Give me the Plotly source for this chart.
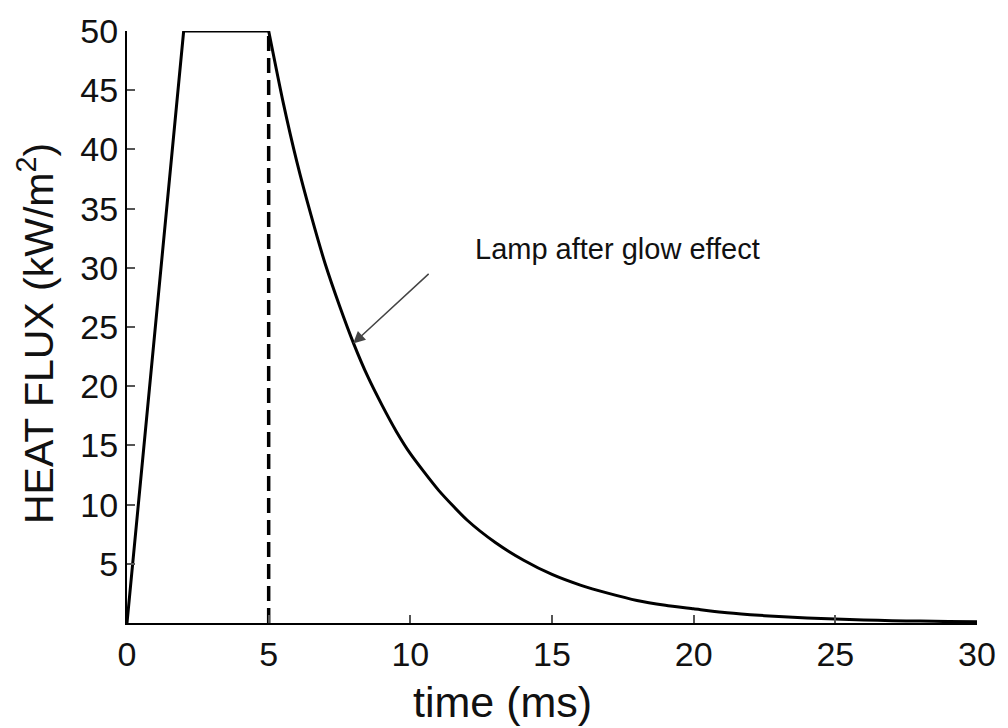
import plotly.graph_objects as go

# ---- data ----
ramp_t = [0, 2, 5]
ramp_q = [0, 50, 50]

decay_t = [5, 5.5, 6, 6.5, 7, 7.5, 8, 8.5, 9, 9.5, 10, 11, 12, 13, 14, 15,
           16, 17, 18, 19, 20, 21, 22, 23, 24, 25, 26, 27, 28, 29, 30]
decay_q = [50, 44.1, 38.9, 34.4, 30.3, 26.8, 23.6, 20.8, 18.4, 16.2, 14.3,
           11.2, 8.7, 6.8, 5.3, 4.1, 3.2, 2.5, 1.9, 1.5, 1.2, 0.9, 0.7,
           0.55, 0.43, 0.33, 0.26, 0.2, 0.16, 0.12, 0.1]

marker_t = [5, 5]
marker_q = [0, 49.6]

x_ticks = [0, 5, 10, 15, 20, 25, 30]
y_ticks = [5, 10, 15, 20, 25, 30, 35, 40, 45, 50]

arrow_head = (7.98, 23.6)
arrow_tail = (10.7, 29.6)
note_pos = (12.2, 31.6)
note_text = "Lamp after glow effect"
x_title = "time (ms)"
y_title = "HEAT FLUX (kW/m<sup>2</sup>)"

FONT = "Liberation Sans, Arial, sans-serif"

# plot area in pixels
L, R, T, B = 127, 983, 24, 623


def px_to_paper(px, py):
    return (px - L) / (R - L), (B - py) / (B - T)


fig = go.Figure()
fig.add_trace(go.Scatter(x=marker_t, y=marker_q, mode="lines",
                         line=dict(color="black", width=3.5, dash="15px,7px"),
                         hoverinfo="skip"))
fig.add_trace(go.Scatter(x=ramp_t, y=ramp_q, mode="lines",
                         line=dict(color="black", width=3)))
fig.add_trace(go.Scatter(x=decay_t, y=decay_q, mode="lines",
                         line=dict(color="black", width=3, shape="spline", smoothing=0.6)))

fig.add_annotation(x=arrow_head[0], y=arrow_head[1], ax=arrow_tail[0], ay=arrow_tail[1],
                   axref="x", ayref="y", xref="x", yref="y", text="",
                   showarrow=True, arrowhead=2, arrowsize=1.6, arrowwidth=1.5,
                   arrowcolor="#444444")
fig.add_annotation(x=note_pos[0], y=note_pos[1], xref="x", yref="y", text=note_text,
                   showarrow=False, xanchor="left", yanchor="middle",
                   font=dict(family=FONT, size=29, color="#111111"))

xt = px_to_paper(505, 703)
fig.add_annotation(x=xt[0], y=xt[1], xref="paper", yref="paper",
                   text=x_title, showarrow=False, xanchor="center", yanchor="middle",
                   font=dict(family=FONT, size=43, color="#111111"))
yt = px_to_paper(36, 330)
fig.add_annotation(x=yt[0], y=yt[1], xref="paper", yref="paper",
                   text=y_title, showarrow=False, textangle=-90,
                   xanchor="center", yanchor="middle",
                   font=dict(family=FONT, size=41, color="#111111"))

axis_common = dict(showline=True, linecolor="black", linewidth=2, showgrid=False,
                   zeroline=False, ticks="inside", ticklen=8, tickwidth=1.5,
                   tickcolor="#555555", tickfont=dict(family=FONT, size=34, color="#111111"))

fig.update_xaxes(range=[0, 30], tickvals=x_ticks, **axis_common)
fig.update_yaxes(range=[0, 50], tickvals=y_ticks, **axis_common)

fig.update_layout(width=1008, height=728, showlegend=False,
                  plot_bgcolor="white", paper_bgcolor="white",
                  margin=dict(l=L, r=1008 - R, t=T, b=728 - B))

fig.write_html("out.html")
